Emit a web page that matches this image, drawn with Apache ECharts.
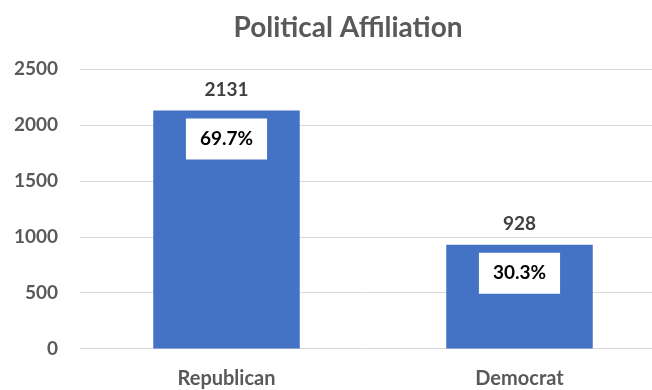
<!DOCTYPE html>
<html>
<head>
<meta charset="utf-8">
<script src="https://cdn.jsdelivr.net/npm/echarts@6/dist/echarts.min.js"></script>
<style>html,body{margin:0;padding:0;background:#fff}#c{width:652px;height:390px}</style>
</head>
<body>
<div id="c"></div>
<script>
const categories = ['Republican', 'Democrat'];
const counts = [2131, 928];
const percents = ['69.7%', '30.3%'];
const yTicks = [0, 500, 1000, 1500, 2000, 2500];

const chart = echarts.init(document.getElementById('c'), null, {renderer: 'canvas'});
const font = 'Lato';
chart.setOption({
  animation: false,
  title: {
    text: 'Political Affiliation',
    left: 343, top: 9, textAlign: 'center',
    textStyle: {fontFamily: font, fontWeight: 'bold', fontSize: 28, color: '#595959'}
  },
  grid: {left: 80, width: 586, top: 69.3, bottom: 41.5, containLabel: false, outerBoundsMode: 'none'},
  xAxis: {
    type: 'category', data: categories,
    axisTick: {show: false},
    axisLine: {lineStyle: {color: '#d9d9d9', width: 1}},
    axisLabel: {margin: 20, fontFamily: font, fontWeight: 'bold', fontSize: 20, color: '#595959'}
  },
  yAxis: {
    type: 'value', min: yTicks[0], max: yTicks[yTicks.length - 1], interval: 500,
    axisLine: {show: false}, axisTick: {show: false},
    splitLine: {lineStyle: {color: '#d9d9d9', width: 1}},
    axisLabel: {margin: 22, formatter: v => String(v), fontFamily: font, fontWeight: 'bold', fontSize: 19, color: '#595959'}
  },
  series: [
    {
      type: 'bar', data: counts, barWidth: '50%',
      itemStyle: {color: '#4472C4'},
      label: {show: true, position: 'top', distance: 11, fontFamily: font, fontWeight: 'bold', fontSize: 19, color: '#404040'}
    },
    {
      type: 'bar', data: counts, barWidth: '50%', barGap: '-100%',
      itemStyle: {color: 'rgba(0,0,0,0)'},
      label: {
        show: true, position: 'insideTop', distance: 8,
        formatter: p => percents[p.dataIndex],
        backgroundColor: '#ffffff', padding: [10, 14, 10, 14],
        fontFamily: font, fontWeight: 'bold', fontSize: 19, color: '#000000', lineHeight: 21
      }
    }
  ]
});
</script>
</body>
</html>
